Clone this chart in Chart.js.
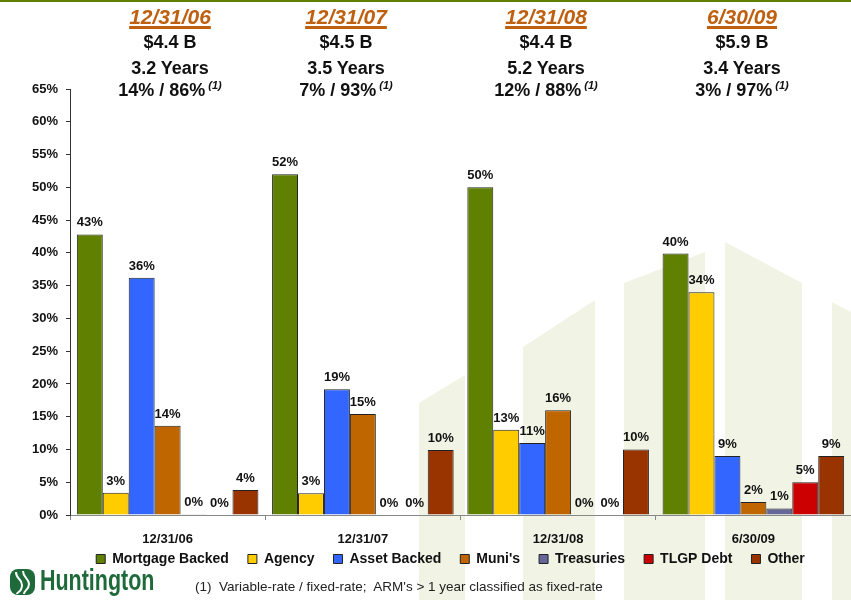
<!DOCTYPE html>
<html>
<head>
<meta charset="utf-8">
<script src="https://cdn.jsdelivr.net/npm/chart.js@4.4.1/dist/chart.umd.min.js"></script>
<style>
  body { margin: 0; background: #fff; font-family: "Liberation Sans", Arial, sans-serif; }
  #wrap { position: relative; width: 851px; height: 600px; overflow: hidden; }
  #topline { position: absolute; left: 0; top: 0; width: 851px; height: 2px; background: #5f8000; }
  #bg { position: absolute; left: 0; top: 0; }
  #chart { position: absolute; left: 0; top: 0; }
  .head { position: absolute; top: 0; width: 200px; height: 110px; text-align: center; font-weight: bold; color: #111; }
  .head div { position: absolute; left: 0; width: 200px; white-space: nowrap; }
  .head .date { top: 4px; font-size: 21px; font-style: italic; color: #bf6010; line-height: 26px;
    text-decoration: underline; text-decoration-thickness: 3px; text-underline-offset: 2px; }
  .head .line { font-size: 18px; line-height: 24px; }
  .head sup { font-size: 11px; line-height: 0; font-style: italic; vertical-align: 7px; margin-left: 3px; }
  #logo { position: absolute; left: 9px; top: 567px; }
  #logo svg { position: absolute; left: 0; top: 1px; }
  #logo span { position: absolute; left: 31px; top: -3px; font-family: "Liberation Sans", Arial, sans-serif; font-weight: bold;
    font-size: 29px; color: #1f6a3a; transform: scaleX(0.74); transform-origin: left top; white-space: nowrap; }
  #note { position: absolute; left: 195px; top: 579px; font-size: 13.5px; color: #222; white-space: pre; }
</style>
</head>
<body>
<div id="wrap">
  <svg id="bg" width="851" height="600">
    <g fill="#f1f3e5">
      <polygon points="419,403 465,375 465,600 419,600"/>
      <polygon points="523,347 595,300 595,600 523,600"/>
      <polygon points="624,283 705,252 705,600 624,600"/>
      <polygon points="725,242 802,283 802,600 725,600"/>
      <polygon points="832,302 851,312 851,600 832,600"/>
    </g>
  </svg>
  <div id="topline"></div>
  <canvas id="chart" width="851" height="600"></canvas>
  <div id="heads"></div>
  <div id="logo">
    <svg width="27" height="28" viewBox="0 0 27 28">
      <rect x="1" y="1" width="25" height="26" rx="8" fill="#1f6a3a"/>
      <path d="M7 4 C 7 12, 13 10, 13 17 S 8 24, 8 26" stroke="#fff" stroke-width="2" fill="none"/>
      <path d="M14 3 C 14 10, 20 10, 20 16 S 15 22, 15 26" stroke="#fff" stroke-width="2" fill="none"/>
    </svg>
    <span>Huntington</span>
  </div>
  <div id="note">(1)  Variable-rate / fixed-rate;  ARM's &gt; 1 year classified as fixed-rate</div>
</div>
<script>
const periods = ['12/31/06', '12/31/07', '12/31/08', '6/30/09'];
const portfolioSize = ['$4.4 B', '$4.5 B', '$4.4 B', '$5.9 B'];
const duration = ['3.2 Years', '3.5 Years', '5.2 Years', '3.4 Years'];
const rateSplit = ['14% / 86%', '7% / 93%', '12% / 88%', '3% / 97%'];

const mortgageBacked = [42.8, 52.0, 50.0, 39.9];
const agency = [3.4, 3.3, 13.0, 34.0];
const assetBacked = [36.2, 19.2, 11.0, 9.0];
const munis = [13.6, 15.4, 16.0, 2.0];
const treasuries = [0.1, 0, 0, 1.0];
const tlgpDebt = [0, 0, 0, 5.0];
const other = [3.8, 9.9, 10.0, 9.0];

const yTicks = [0, 5, 10, 15, 20, 25, 30, 35, 40, 45, 50, 55, 60, 65];

// header blocks above the chart
const headerX = [170, 346, 546, 742];
const heads = document.getElementById('heads');
periods.forEach((p, i) => {
  const d = document.createElement('div');
  d.className = 'head';
  d.style.left = (headerX[i] - 100) + 'px';
  d.innerHTML = '<div class="date">' + p + '</div>' +
    '<div class="line" style="top:30px">' + portfolioSize[i] + '</div>' +
    '<div class="line" style="top:56px">' + duration[i] + '</div>' +
    '<div class="line" style="top:78px">' + rateSplit[i] + '<sup>(1)</sup></div>';
  heads.appendChild(d);
});

const font = '"Liberation Sans", Arial, sans-serif';

const valueLabels = {
  id: 'valueLabels',
  afterLayout(chart) {
    // legend sits a bit right of centre and tucked under the axis labels
    const lg = chart.legend;
    const h = lg.bottom - lg.top;
    lg.left = 50;
    lg.top = 533;
    lg.bottom = 533 + h;
  },
  afterDatasetsDraw(chart) {
    const ctx = chart.ctx;
    ctx.save();
    ctx.font = 'bold 13px ' + font;
    ctx.fillStyle = '#111';
    ctx.textAlign = 'center';
    ctx.textBaseline = 'alphabetic';
    chart.data.datasets.forEach((ds, i) => {
      chart.getDatasetMeta(i).data.forEach((bar, j) => {
        ctx.fillText(Math.round(ds.data[j]) + '%', bar.x, bar.y - 8);
      });
    });
    ctx.restore();
  }
};

function series(label, data, color) {
  return { label, data, backgroundColor: color, borderColor: '#222', borderWidth: 1 };
}

new Chart(document.getElementById('chart'), {
  type: 'bar',
  data: {
    labels: periods,
    datasets: [
      series('Mortgage Backed', mortgageBacked, '#5f8000'),
      series('Agency', agency, '#ffcc00'),
      series('Asset Backed', assetBacked, '#3366ff'),
      series("Muni's", munis, '#bf6600'),
      series('Treasuries', treasuries, '#666699'),
      series('TLGP Debt', tlgpDebt, '#cc0000'),
      series('Other', other, '#993300')
    ]
  },
  options: {
    responsive: false,
    devicePixelRatio: 1,
    animation: false,
    layout: { padding: { left: 0, right: 0, top: 89, bottom: 11 } },
    datasets: { bar: { categoryPercentage: 0.93, barPercentage: 1 } },
    plugins: {
      tooltip: { enabled: false },
      legend: {
        position: 'bottom',
        labels: {
          boxWidth: 9, boxHeight: 9, padding: 19, color: '#111',
          font: { family: font, size: 14, weight: 'bold' }
        }
      }
    },
    scales: {
      x: {
        grid: { drawOnChartArea: false, offset: true, tickLength: 5, color: '#888' },
        border: { color: '#888' },
        ticks: { color: '#111', padding: 12, font: { family: font, size: 13, weight: 'bold' } },
        afterFit: s => { s.height = 31; }
      },
      y: {
        min: 0, max: 65,
        afterBuildTicks: s => { s.ticks = yTicks.map(v => ({ value: v })); },
        grid: { drawOnChartArea: false, tickLength: 4, color: '#333' },
        border: { color: '#333' },
        ticks: {
          color: '#111', padding: 8,
          font: { family: font, size: 13, weight: 'bold' },
          callback: v => v + '%'
        },
        afterFit: s => { s.width = 70; }
      }
    }
  },
  plugins: [valueLabels]
});
</script>
</body>
</html>
